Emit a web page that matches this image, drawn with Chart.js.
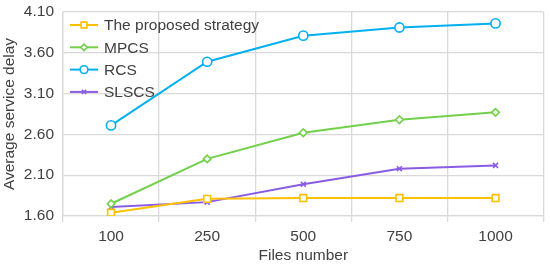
<!DOCTYPE html>
<html>
<head>
<meta charset="utf-8">
<script src="https://cdn.jsdelivr.net/npm/chart.js@4/dist/chart.umd.min.js"></script>
<style>
  html, body { margin: 0; padding: 0; background: #fff; }
  #wrap { width: 550px; height: 267px; }
</style>
</head>
<body>
<div id="wrap"><canvas id="c" width="550" height="267"></canvas></div>
<script>
// dados
const filesNumber = ['100', '250', '500', '750', '1000'];
const proposedStrategy = [1.64, 1.81, 1.82, 1.82, 1.82];
const mpcs = [1.75, 2.30, 2.62, 2.78, 2.87];
const rcs = [2.71, 3.49, 3.81, 3.91, 3.96];
const slscs = [1.71, 1.77, 1.99, 2.18, 2.22];
const yTicks = [1.6, 2.1, 2.6, 3.1, 3.6, 4.1];

const FONTE = "'Liberation Sans', sans-serif";
const TAM = 15.5;
const COR_TEXTO = '#404040';

function serie(label, dados, cor, estilo, raio) {
    return {
        label: label,
        data: dados,
        borderColor: cor,
        backgroundColor: '#ffffff',
        borderWidth: 2,
        pointStyle: estilo,
        pointRadius: raio,
        pointBorderWidth: 1.6,
        pointBorderColor: cor,
        pointBackgroundColor: '#ffffff',
        tension: 0
    };
}

// legenda desenhada dentro da área do gráfico
const legendaInterna = {
    id: 'legendaInterna',
    afterDraw(chart) {
        const ctx = chart.ctx;
        const x0 = chart.chartArea.left + 7;
        let y = chart.chartArea.top + 13;
        ctx.save();
        ctx.font = TAM + 'px ' + FONTE;
        ctx.textBaseline = 'middle';
        chart.data.datasets.forEach(ds => {
            ctx.strokeStyle = ds.borderColor;
            ctx.lineWidth = 2;
            ctx.beginPath();
            ctx.moveTo(x0, y);
            ctx.lineTo(x0 + 28, y);
            ctx.stroke();
            ctx.fillStyle = '#ffffff';
            ctx.strokeStyle = ds.borderColor;
            ctx.lineWidth = 1.6;
            Chart.helpers.drawPoint(ctx, {
                pointStyle: ds.pointStyle,
                radius: ds.pointRadius * 0.85,
                rotation: 0,
                borderWidth: 1.6
            }, x0 + 14, y);
            ctx.fillStyle = COR_TEXTO;
            ctx.fillText(ds.label, x0 + 34, y + 1);
            y += 22.3;
        });
        ctx.restore();
    }
};

new Chart(document.getElementById('c'), {
    type: 'line',
    data: {
        labels: filesNumber,
        datasets: [
            serie('The proposed strategy', proposedStrategy, '#FFC000', 'rect', 4.8),
            serie('MPCS', mpcs, '#72D04A', 'rectRot', 3.8),
            serie('RCS', rcs, '#00B0F0', 'circle', 4.6),
            serie('SLSCS', slscs, '#8A5CE6', 'crossRot', 3.5)
        ]
    },
    options: {
        responsive: false,
        animation: false,
        layout: { padding: { top: 12, right: 6, left: 0, bottom: 0 } },
        plugins: {
            legend: { display: false },
            tooltip: { enabled: false }
        },
        scales: {
            x: {
                offset: true,
                grid: {
                    offset: true,
                    color: '#D9D9D9',
                    lineWidth: 1.3,
                    tickLength: 6,
                    drawTicks: true
                },
                border: { color: '#D9D9D9', width: 1.3 },
                ticks: {
                    color: COR_TEXTO,
                    font: { family: FONTE, size: TAM },
                    padding: 5
                },
                title: {
                    display: true,
                    text: 'Files number',
                    color: COR_TEXTO,
                    font: { family: FONTE, size: TAM },
                    padding: { top: 0, bottom: 2 }
                },
                afterFit(scale) {
                    scale.height = 51;
                    scale.paddingLeft = 0;
                    scale.paddingRight = 0;
                }
            },
            y: {
                min: 1.6,
                max: 4.1,
                afterBuildTicks(scale) {
                    scale.ticks = yTicks.map(v => ({ value: v }));
                },
                grid: {
                    color: '#D9D9D9',
                    lineWidth: 1.3,
                    drawTicks: false
                },
                border: { color: '#D9D9D9', width: 1.3 },
                ticks: {
                    color: COR_TEXTO,
                    font: { family: FONTE, size: TAM },
                    padding: 9,
                    callback: v => Number(v).toFixed(2)
                },
                title: {
                    display: true,
                    text: 'Average service delay',
                    color: COR_TEXTO,
                    font: { family: FONTE, size: TAM },
                    padding: { top: 0, bottom: 2 }
                },
                afterFit(scale) {
                    scale.width = 63;
                    scale.paddingTop = 0;
                    scale.paddingBottom = 0;
                }
            }
        }
    },
    plugins: [legendaInterna]
});
</script>
</body>
</html>
